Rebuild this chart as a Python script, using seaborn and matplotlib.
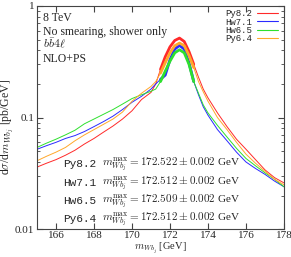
import numpy as np
import pandas as pd
import matplotlib
matplotlib.use("Agg")
import matplotlib.pyplot as plt
import seaborn as sns

m = [165.0, 165.5, 166.0, 166.5, 167.0, 167.5, 168.0, 168.5, 169.0, 169.5,
     170.0, 170.5, 171.0, 171.25, 171.5, 171.75, 172.0, 172.25, 172.5, 172.75,
     173.0, 173.25, 173.5, 173.75, 174.0, 174.5, 175.0, 175.5, 176.0, 176.5,
     177.0, 177.5, 178.0]

py82 = [0.036, 0.039, 0.042, 0.046, 0.051, 0.058, 0.065, 0.074, 0.084, 0.097,
        0.115, 0.145, 0.168, 0.20, 0.27, 0.35, 0.43, 0.49, 0.515, 0.48,
        0.39, 0.30, 0.23, 0.18, 0.15, 0.11, 0.083, 0.064, 0.052, 0.042,
        0.034, 0.029, 0.026]
hw71 = [0.052, 0.056, 0.060, 0.065, 0.069, 0.075, 0.083, 0.092, 0.103, 0.118,
        0.137, 0.155, 0.18, 0.20, 0.22, 0.24, 0.33, 0.41, 0.443, 0.41,
        0.31, 0.21, 0.16, 0.125, 0.105, 0.078, 0.062, 0.049, 0.040, 0.035,
        0.031, 0.027, 0.024]
hw65 = [0.054, 0.059, 0.064, 0.070, 0.077, 0.088, 0.097, 0.107, 0.118, 0.132,
        0.148, 0.160, 0.172, 0.18, 0.21, 0.26, 0.32, 0.38, 0.405, 0.38,
        0.30, 0.21, 0.165, 0.13, 0.11, 0.085, 0.067, 0.053, 0.043, 0.037,
        0.032, 0.028, 0.024]
py64 = [0.041, 0.045, 0.049, 0.054, 0.062, 0.070, 0.078, 0.087, 0.097, 0.112,
        0.140, 0.165, 0.19, 0.21, 0.25, 0.31, 0.38, 0.44, 0.465, 0.44,
        0.36, 0.28, 0.21, 0.17, 0.14, 0.10, 0.078, 0.060, 0.047, 0.039,
        0.033, 0.028, 0.025]

labels = ["Py8.2", "Hw7.1", "Hw6.5", "Py6.4"]
peaks = ["172.522", "172.512", "172.509", "172.512"]
colors = ["#ff2a2a", "#2a2aff", "#2ee02e", "#ffa82a"]

sns.set_style("ticks")
plt.rcParams["font.family"] = ["Liberation Serif", "DejaVu Serif"]
plt.rcParams["mathtext.fontset"] = "cm"

fig = plt.figure(figsize=(2.91, 2.57), dpi=100)
ax = fig.add_axes([0.127, 0.108, 0.849, 0.869])

x = np.array(m)
peak = (x >= 171.5) & (x <= 173.25)
for lab, ys, c in zip(labels, [py82, hw71, hw65, py64], colors):
    ys = np.array(ys)
    sns.lineplot(x=x, y=ys, color=c, lw=0.7, label=lab, ax=ax)
    sns.lineplot(x=x[peak], y=ys[peak], color=c, lw=2.0, ax=ax, legend=False)

ax.set_yscale("log")
ax.set_xlim(165, 178)
ax.set_ylim(0.01, 1)
ax.set_xticks([166, 168, 170, 172, 174, 176, 178])
ax.set_yticks([0.01, 0.1, 1])
ax.set_yticklabels(["0.01", "0.1", "1"])
ax.tick_params(which="both", direction="in", top=True, right=True, labelsize=8,
               color="#444444", pad=2)
ax.tick_params(axis="x", pad=1.5)
ax.tick_params(which="major", length=4)
ax.tick_params(which="minor", length=2)
for s in ax.spines.values():
    s.set_color("#444444")
    s.set_linewidth(0.8)

ax.set_xlabel(r"$m_{Wb_j}$ [GeV]", fontsize=7.5, va="top")
ax.xaxis.set_label_coords(0.5, -0.052)
ax.set_ylabel(r"d$\sigma$/d$m_{Wb_j}$ [pb/GeV]", fontsize=8.5)
ax.yaxis.set_label_coords(-0.085, 0.46)

info = ["8 TeV", "No smearing, shower only", r"$b\bar{b}4\ell$", "NLO+PS"]
for i, t in enumerate(info):
    ax.text(0.024, 0.933 - i * 0.062, t, transform=ax.transAxes, fontsize=8.5,
            va="baseline")

for i, (lab, pk) in enumerate(zip(labels, peaks)):
    yy = 0.29 - i * 0.082
    ax.text(0.105, yy, lab, transform=ax.transAxes, fontsize=8,
            family="Liberation Mono", va="center")
    ax.text(0.265, yy, r"$m_{Wb_j}^{\max} = %s \pm 0.002$ GeV" % pk,
            transform=ax.transAxes, fontsize=8, va="center")

leg = ax.legend(loc="upper right", bbox_to_anchor=(0.975, 0.985), frameon=False,
                markerfirst=False, labelspacing=-0.08, handlelength=2.3,
                handletextpad=0.5, borderaxespad=0, borderpad=0,
                prop={"family": "Liberation Mono", "size": 6.5})
for h in leg.get_lines():
    h.set_linewidth(0.8)

fig.savefig("out.png", dpi=100)
